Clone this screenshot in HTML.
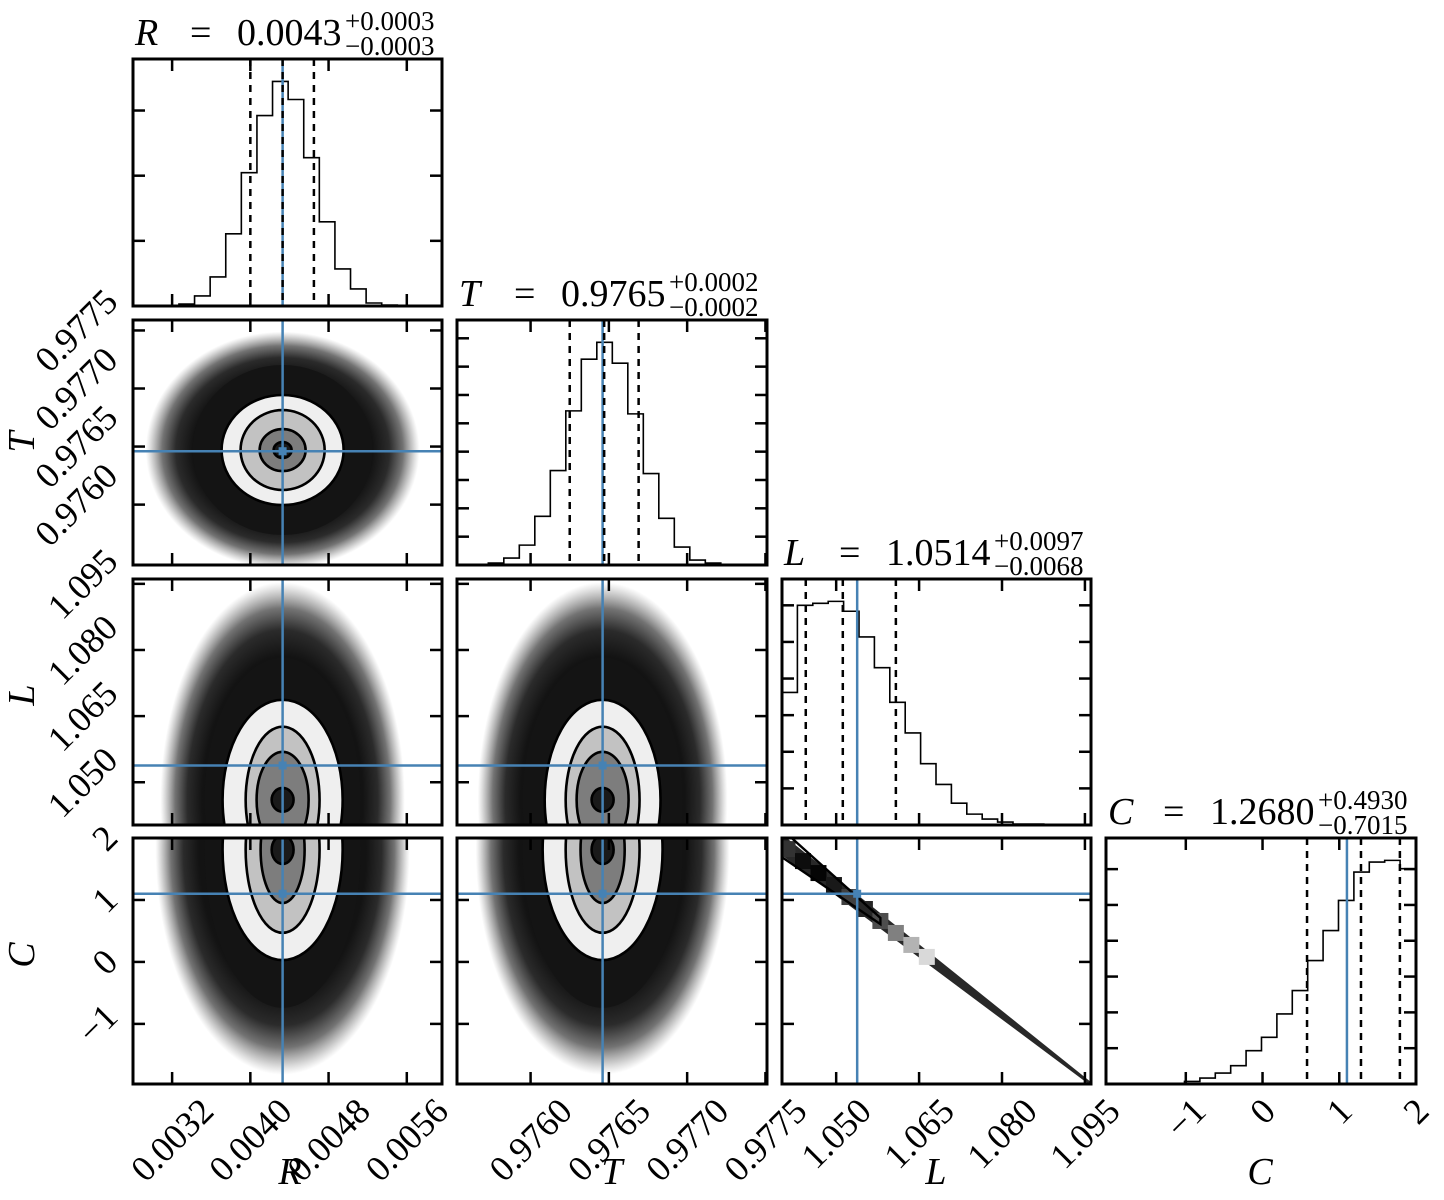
<!DOCTYPE html>
<html><head><meta charset="utf-8"><title>Corner plot</title>
<style>html,body{margin:0;padding:0;background:#fff;}svg{display:block;}</style>
</head><body>
<svg id="chart" width="1444" height="1200" xmlns="http://www.w3.org/2000/svg" font-family="'Liberation Serif', serif">
<defs>
<radialGradient id="cloudGrad" cx="0.5" cy="0.5" r="0.5">
<stop offset="0" stop-color="#0c0c0c" stop-opacity="1"/>
<stop offset="0.66" stop-color="#0c0c0c" stop-opacity="0.97"/>
<stop offset="0.78" stop-color="#0e0e0e" stop-opacity="0.88"/>
<stop offset="0.88" stop-color="#161616" stop-opacity="0.6"/>
<stop offset="0.95" stop-color="#333" stop-opacity="0.25"/>
<stop offset="1" stop-color="#555" stop-opacity="0"/>
</radialGradient>
</defs>
</svg>
<script>
// ---------- data ----------
const varNames = ['R','T','L','C'];
const rRange = [0.0028, 0.00596];
const tRange = [0.97553, 0.97751];
const tRangeY = [0.97548, 0.97759];
const lRange = [1.0402, 1.0961];
const lRangeY = [1.0403, 1.0961];
const cRange = [-2.04, 2.0];
const cRangeY = [-1.97, 2.0];

const rTicks = [0.0032, 0.0040, 0.0048, 0.0056];
const rTickLabels = ['0.0032','0.0040','0.0048','0.0056'];
const tTicks = [0.9760, 0.9765, 0.9770, 0.9775];
const tTickLabels = ['0.9760','0.9765','0.9770','0.9775'];
const lTicks = [1.050, 1.065, 1.080, 1.095];
const lTickLabels = ['1.050','1.065','1.080','1.095'];
const cTicks = [-1, 0, 1, 2];
const cTickLabels = ['\u22121','0','1','2'];

const truths = [0.00433, 0.97646, 1.0538, 1.1];

const rBinStart = 0.00327, rBinWidth = 0.0001595;
const rCounts = [2,10,29,72,133,190,224,206,148,84,37,17,3,1];
const tBinStart = 0.97573, tBinWidth = 0.0000990;
const tCounts = [2,7,20,49,95,155,207,224,203,152,92,47,18,5,2];
const lBinStart = 1.0402, lBinWidth = 0.002786;
const lCounts = [134,222,224,226,216,190,159,124,93,62,41,22,11,6,3,1,1,0.5];
const cBinStart = -1.82, cBinWidth = 0.2007;
const cCounts = [0.2,0.3,0.4,0.6,2.5,5.7,10.5,17.5,31.9,44.7,67.1,89.5,118.2,147,175.8,203,212.6,214.2,206.2];
const histTickStep = [65, 28.5, 37, 34.3];

const rQuantiles = [0.00400, 0.00433, 0.00465];
const tQuantiles = [0.97625, 0.97647, 0.97669];
const lQuantiles = [1.0445, 1.0512, 1.0608];
const cQuantiles = [0.58, 1.283, 1.79];

const titleValues = ['0.0043','0.9765','1.0514','1.2680'];
const titleUpper = ['+0.0003','+0.0002','+0.0097','+0.4930'];
const titleLower = ['\u22120.0003','\u22120.0002','\u22120.0068','\u22120.7015'];

// 2D density contour radii (core, inner, mid, outer, dense, cloud) in data units
const rtCenter = [0.00433, 0.97647];
const rtRadiiX = [0.000092,0.000235,0.000430,0.000624,0.000920,0.00140];
const rtRadiiY = [0.000069,0.000181,0.000344,0.000474,0.000732,0.00102];
const rlCenter = [0.00433, 1.0460];
const rlRadiiX = [0.000112,0.000266,0.000378,0.000614,0.000798,0.00125];
const rlRadiiY = [0.0027,0.0109,0.0166,0.0227,0.0322,0.0494];
const tlCenter = [0.97646, 1.0460];
const tlRadiiX = [0.0000703,0.000166,0.000236,0.000370,0.000511,0.000798];
const tlRadiiY = [0.0027,0.0109,0.0166,0.0227,0.0322,0.0494];
const rcCenter = [0.00433, 1.81];
const rcRadiiX = [0.000112,0.000225,0.000378,0.000614,0.000798,0.00130];
const rcRadiiY = [0.23,0.86,1.34,1.78,2.55,3.63];
const tcCenter = [0.97646, 1.81];
const tcRadiiX = [0.0000703,0.000141,0.000236,0.000383,0.000511,0.000811];
const tcRadiiY = [0.23,0.86,1.34,1.78,2.55,3.63];

// L-C degeneracy band
const bandL = [1.0402, 1.0961];
const bandC = [1.89, -1.97];
const bandHalf = [0.17, 0.03];
const cellL = [1.0412,1.0440,1.0468,1.0496,1.0524,1.0552,1.0580,1.0608,1.0636,1.0664];
const cellDensity = [0.8,0.95,0.98,0.9,0.75,0.85,0.7,0.5,0.3,0.15];

// ---------- layout ----------
const NS = 'http://www.w3.org/2000/svg';
const svg = document.getElementById('chart');
const colX = [[133,442],[457,767],[782,1091],[1106,1416]];
const rowY = [[59,306],[320,565],[579,825],[838,1084]];
function lin(d0,d1,p0,p1){ return v => p0 + (v-d0)/(d1-d0)*(p1-p0); }
const xRanges = [rRange,tRange,lRange,cRange];
const yRanges = [rRange,tRangeY,lRangeY,cRangeY];
const xs = xRanges.map((r,i)=>lin(r[0],r[1],colX[i][0],colX[i][1]));
const ys = yRanges.map((r,i)=>lin(r[0],r[1],rowY[i][1],rowY[i][0]));
const ticks = [rTicks,tTicks,lTicks,cTicks];
const tickLabels = [rTickLabels,tTickLabels,lTickLabels,cTickLabels];
const binStarts = [rBinStart,tBinStart,lBinStart,cBinStart];
const binWidths = [rBinWidth,tBinWidth,lBinWidth,cBinWidth];
const counts = [rCounts,tCounts,lCounts,cCounts];
const quantiles = [rQuantiles,tQuantiles,lQuantiles,cQuantiles];
const BLUE = '#4682b4';

function el(tag, attrs, parent){
  const e = document.createElementNS(NS, tag);
  for (const k in attrs) e.setAttribute(k, attrs[k]);
  (parent||svg).appendChild(e);
  return e;
}

let clipId = 0;
function makePanel(i,j){
  const g = el('g',{});
  
  
  const x0=colX[j][0], x1=colX[j][1], y0=rowY[i][0], y1=rowY[i][1];
  const cp = el('clipPath',{id:'clip'+clipId}, g);
  el('rect',{x:x0,y:y0,width:x1-x0,height:y1-y0}, cp);
  const inner = el('g',{'clip-path':'url(#clip'+clipId+')'}, g);
  clipId++;
  return {g, inner, x0, x1, y0, y1};
}

function frameAndTicks(p, xTickPx, yTickPx){
  const tl = 12;
  for (const tx of xTickPx){
    const a = el('line',{x1:tx,y1:p.y1,x2:tx,y2:p.y1-tl,stroke:'#000','stroke-width':2.5}, p.g);
    
    
    const b = el('line',{x1:tx,y1:p.y0,x2:tx,y2:p.y0+tl,stroke:'#000','stroke-width':2.5}, p.g);
    
    
  }
  for (const ty of yTickPx){
    const a = el('line',{x1:p.x0,y1:ty,x2:p.x0+tl,y2:ty,stroke:'#000','stroke-width':2.5}, p.g);
    
    
    const b = el('line',{x1:p.x1,y1:ty,x2:p.x1-tl,y2:ty,stroke:'#000','stroke-width':2.5}, p.g);
    
    
  }
  const f = el('rect',{x:p.x0,y:p.y0,width:p.x1-p.x0,height:p.y1-p.y0,fill:'none',stroke:'#000','stroke-width':3}, p.g);
  
  
}

function drawHist(k){
  const p = makePanel(k,k);
  const xf = xs[k];
  const cs = counts[k];
  const ymax = Math.max(...cs)*1.1;
  const yf = lin(0, ymax, p.y1, p.y0);
  let d = 'M'+xf(binStarts[k])+','+p.y1;
  for (let b=0;b<cs.length;b++){
    const a = xf(binStarts[k]+b*binWidths[k]), c = xf(binStarts[k]+(b+1)*binWidths[k]);
    d += ' L'+a+','+yf(cs[b])+' L'+c+','+yf(cs[b]);
  }
  d += ' L'+xf(binStarts[k]+cs.length*binWidths[k])+','+p.y1;
  const h = el('path',{d:d,fill:'none',stroke:'#000','stroke-width':1.6}, p.inner);
  
  
  const bl = el('line',{x1:xf(truths[k]),y1:p.y0,x2:xf(truths[k]),y2:p.y1,stroke:BLUE,'stroke-width':2.5}, p.inner);
  
  
  for (const q of quantiles[k]){
    const ql = el('line',{x1:xf(q),y1:p.y0,x2:xf(q),y2:p.y1,stroke:'#000','stroke-width':2.5,'stroke-dasharray':'7,6'}, p.inner);
    
    
  }
  const yt = [];
  for (let v=histTickStep[k]; v<ymax; v+=histTickStep[k]) yt.push(yf(v));
  frameAndTicks(p, ticks[k].map(xf), yt);
  // title
  const x0 = p.x0, by = p.y0-14;
  const t1 = el('text',{x:x0+2,y:by,'font-size':38,'font-style':'italic'});
  t1.textContent = varNames[k];
  
  
  const t2 = el('text',{x:x0+57,y:by,'font-size':38});
  t2.textContent = '=';
  
  
  const t3 = el('text',{x:x0+104,y:by,'font-size':38});
  t3.textContent = titleValues[k];
  
  
  const t4 = el('text',{x:x0+212,y:by-15,'font-size':27});
  t4.textContent = titleUpper[k];
  
  
  const t5 = el('text',{x:x0+212,y:by+10,'font-size':27});
  t5.textContent = titleLower[k];
  
  
}

const fills = ['#1a1a1a','#7d7d7d','#c2c2c2','#efefef','#141414'];
function draw2D(i,j,center,rx,ry){
  const p = makePanel(i,j);
  const xf = xs[j], yf = ys[i];
  const cx = xf(center[0]), cy = yf(center[1]);
  const sx = v => Math.abs(xf(center[0]+v)-cx);
  const sy = v => Math.abs(yf(center[1]+v)-cy);
  const cloud = el('ellipse',{cx:cx,cy:cy,rx:sx(rx[5]),ry:sy(ry[5]),fill:'url(#cloudGrad)'}, p.inner);
  
  
  for (let L=4; L>=0; L--){
    const e = el('ellipse',{cx:cx,cy:cy,rx:sx(rx[L]),ry:sy(ry[L]),fill:fills[L],stroke:L<4?'#000':'none','stroke-width':2.6}, p.inner);
    
    
  }
  drawTruth(p,i,j);
  frameAndTicks(p, ticks[j].map(xf), ticks[i].map(yf));
}

function drawTruth(p,i,j){
  const tx = xs[j](truths[j]), ty = ys[i](truths[i]);
  const v = el('line',{x1:tx,y1:p.y0,x2:tx,y2:p.y1,stroke:BLUE,'stroke-width':2.5}, p.inner);
  
  
  const h = el('line',{x1:p.x0,y1:ty,x2:p.x1,y2:ty,stroke:BLUE,'stroke-width':2.5}, p.inner);
  
  
  const m = el('rect',{x:tx-4,y:ty-4,width:8,height:8,fill:BLUE}, p.inner);
  
  
}

function drawBand(){
  const i=3,j=2;
  const p = makePanel(i,j);
  const xf = xs[j], yf = ys[i];
  const cAt = L => bandC[0] + (L-bandL[0])/(bandL[1]-bandL[0])*(bandC[1]-bandC[0]);
  const hAt = L => bandHalf[0] + (L-bandL[0])/(bandL[1]-bandL[0])*(bandHalf[1]-bandHalf[0]);
  const pts = [[bandL[0],cAt(bandL[0])+hAt(bandL[0])],[bandL[1],cAt(bandL[1])+hAt(bandL[1])],[bandL[1],cAt(bandL[1])-hAt(bandL[1])],[bandL[0],cAt(bandL[0])-hAt(bandL[0])]];
  const band = el('polygon',{points:pts.map(q=>xf(q[0])+','+yf(q[1])).join(' '),fill:'#111','fill-opacity':0.9}, p.inner);
  
  
  for (let c=0;c<cellL.length;c++){
    const px = xf(cellL[c]), py = yf(cAt(cellL[c]));
    const g = Math.round(255*(1-cellDensity[c]));
    const r = el('rect',{x:px-8,y:py-8,width:16,height:16,fill:'rgb('+g+','+g+','+g+')'}, p.inner);
    
    
  }
  const cl = [[bandL[0],cAt(bandL[0])+0.25],[cellL[6],cAt(cellL[6])+0.05],[cellL[6],cAt(cellL[6])-0.05],[bandL[0],cAt(bandL[0])-0.2]];
  const con = el('polygon',{points:cl.map(q=>xf(q[0])+','+yf(q[1])).join(' '),fill:'none',stroke:'#000','stroke-width':2.4}, p.inner);
  
  
  drawTruth(p,i,j);
  frameAndTicks(p, ticks[j].map(xf), ticks[i].map(yf));
}

for (let k=0;k<4;k++) drawHist(k);
draw2D(1,0,rtCenter,rtRadiiX,rtRadiiY);
draw2D(2,0,rlCenter,rlRadiiX,rlRadiiY);
draw2D(2,1,tlCenter,tlRadiiX,tlRadiiY);
draw2D(3,0,rcCenter,rcRadiiX,rcRadiiY);
draw2D(3,1,tcCenter,tcRadiiX,tcRadiiY);
drawBand();

// tick labels
for (let j=0;j<4;j++){
  ticks[j].forEach((v,n)=>{
    const tx = xs[j](v);
    const t = el('text',{'font-size':36,'text-anchor':'middle','dominant-baseline':'central'});
    t.textContent = tickLabels[j][n];
    
    
    const len = t.getComputedTextLength();
    const half = 0.707*(len+25)/2;
    const cy = 1096 + half;
    t.setAttribute('x',tx); t.setAttribute('y',cy);
    t.setAttribute('transform','rotate(-45 '+tx+' '+cy+')');
  });
}
for (let i=1;i<4;i++){
  ticks[i].forEach((v,n)=>{
    const ty = ys[i](v);
    const t = el('text',{'font-size':36,'text-anchor':'middle','dominant-baseline':'central'});
    t.textContent = tickLabels[i][n];
    
    
    const len = t.getComputedTextLength();
    const half = 0.707*(len+25)/2;
    const cx = 120 - half;
    t.setAttribute('x',cx); t.setAttribute('y',ty);
    t.setAttribute('transform','rotate(-45 '+cx+' '+ty+')');
  });
}
// axis titles
const bottomTitleX = [290,612,936,1260];
for (let j=0;j<4;j++){
  const t = el('text',{x:bottomTitleX[j],y:1184,'font-size':38,'font-style':'italic','text-anchor':'middle'});
  t.textContent = varNames[j];
  
  
}
const leftTitleY = [0,442,695,955];
for (let i=1;i<4;i++){
  const t = el('text',{x:34,y:leftTitleY[i],'font-size':38,'font-style':'italic','text-anchor':'middle','transform':'rotate(-90 34 '+leftTitleY[i]+')'});
  t.textContent = varNames[i];
  
  
}
</script>
</body></html>
